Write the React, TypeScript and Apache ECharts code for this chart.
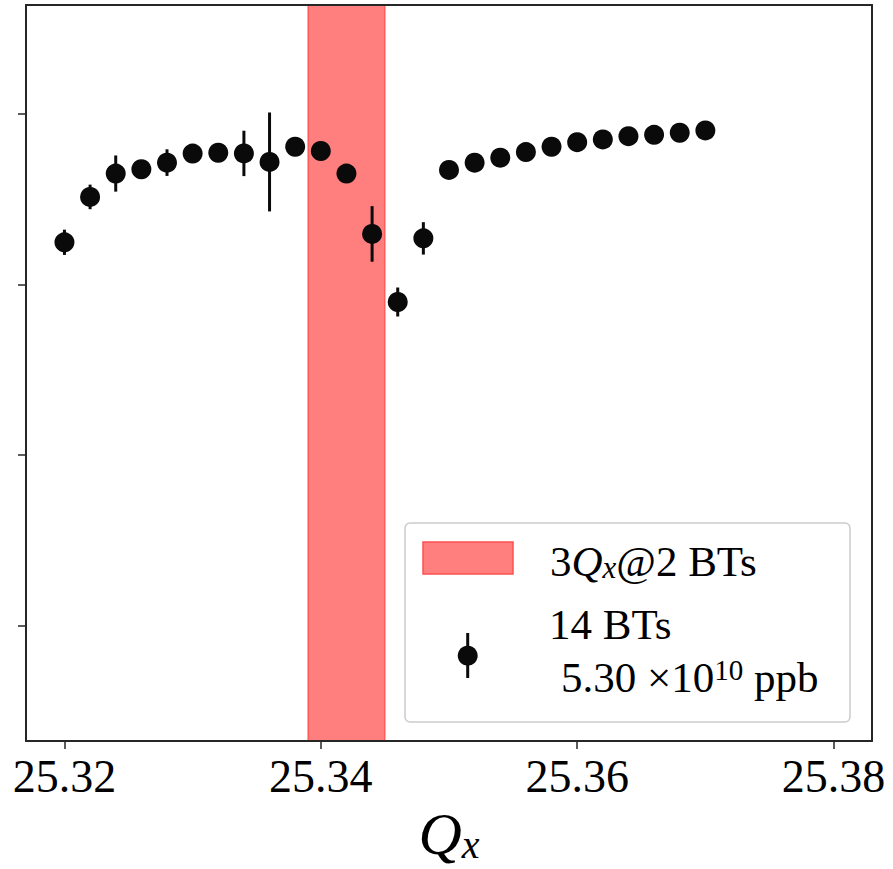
import React, { useEffect, useRef } from "react";
import * as echarts from "echarts";

// Tune Q_x values of the scan
const qx = [
  25.32, 25.322, 25.324, 25.326, 25.328, 25.33, 25.332, 25.334, 25.336, 25.338,
  25.34, 25.342, 25.344, 25.346, 25.348, 25.35, 25.352, 25.354, 25.356, 25.358,
  25.36, 25.362, 25.364, 25.366, 25.368, 25.37,
];
// Measured quantity (y tick labels not visible in the reference; arbitrary units)
const amp = [
  3.247, 3.513, 3.65, 3.675, 3.714, 3.767, 3.772, 3.768, 3.718, 3.807,
  3.782, 3.65, 3.296, 2.897, 3.27, 3.671, 3.714, 3.743, 3.776, 3.807,
  3.834, 3.85, 3.869, 3.877, 3.889, 3.903,
];
// Error bar half-heights
const err = [
  0.074, 0.072, 0.106, 0.03, 0.078, 0.02, 0.02, 0.133, 0.29, 0.02,
  0.02, 0.03, 0.163, 0.085, 0.095, 0.02, 0.02, 0.02, 0.02, 0.02,
  0.02, 0.02, 0.02, 0.02, 0.02, 0.02,
];
// 3Qx resonance band @ 2 BTs
const resonanceBand = [25.339, 25.345];
const xTicks = [25.32, 25.34, 25.36, 25.38];
const yTicks = [1, 2, 3, 4];
const xRange = [25.317, 25.383];
const yRange = [0.323, 4.638];

const FONT = "Liberation Serif";

export default function App() {
  const ref = useRef<HTMLDivElement>(null);
  useEffect(() => {
    document.body.style.margin = "0";
    const chart = echarts.init(ref.current as HTMLDivElement, null, { renderer: "svg" });
    const pts = qx.map((x, i) => [x, amp[i], err[i]]);
    const frameColor = "#262626";

    chart.setOption({
      animation: false,
      backgroundColor: "#ffffff",
      textStyle: { fontFamily: FONT },
      grid: { left: 26, right: 21, top: 5, bottom: 125, show: false },
      xAxis: [
        {
          type: "value",
          min: xRange[0],
          max: xRange[1],
          position: "bottom",
          z: 5,
          axisLine: { show: true, lineStyle: { color: frameColor, width: 2 } },
          axisTick: {
            show: true,
            length: 8,
            customValues: xTicks,
            lineStyle: { color: frameColor, width: 1.5 },
          },
          axisLabel: {
            show: true,
            customValues: xTicks,
            formatter: (v: number) => v.toFixed(2),
            fontSize: 46,
            fontFamily: FONT,
            color: "#000",
            margin: 12,
          },
          splitLine: { show: false },
          name: "{q|Q}{s|x}",
          nameLocation: "middle",
          nameGap: 62,
          nameTextStyle: {
            fontFamily: FONT,
            rich: {
              q: { fontFamily: FONT, fontStyle: "italic", fontSize: 60, lineHeight: 60, color: "#000" },
              s: {
                fontFamily: FONT,
                fontStyle: "italic",
                fontSize: 40,
                lineHeight: 36,
                verticalAlign: "bottom",
                color: "#000",
              },
            },
          },
        },
        {
          type: "value",
          min: xRange[0],
          max: xRange[1],
          position: "top",
          z: 5,
          axisLine: { show: true, lineStyle: { color: frameColor, width: 2 } },
          axisTick: { show: false },
          axisLabel: { show: false },
          splitLine: { show: false },
        },
      ],
      yAxis: [
        {
          type: "value",
          min: yRange[0],
          max: yRange[1],
          position: "left",
          z: 5,
          axisLine: { show: true, lineStyle: { color: frameColor, width: 2 } },
          axisTick: {
            show: true,
            length: 8,
            customValues: yTicks,
            lineStyle: { color: frameColor, width: 1.5 },
          },
          axisLabel: { show: false },
          splitLine: { show: false },
        },
        {
          type: "value",
          min: yRange[0],
          max: yRange[1],
          position: "right",
          z: 5,
          axisLine: { show: true, lineStyle: { color: frameColor, width: 2 } },
          axisTick: { show: false },
          axisLabel: { show: false },
          splitLine: { show: false },
        },
      ],
      series: [
        {
          type: "custom",
          name: "band",
          z: 1,
          silent: true,
          data: [[resonanceBand[0], resonanceBand[1]]],
          renderItem: (_params: any, api: any) => {
            const p1 = api.coord([api.value(0), yRange[1]]);
            const p2 = api.coord([api.value(1), yRange[0]]);
            return {
              type: "rect",
              shape: { x: p1[0], y: p1[1], width: p2[0] - p1[0], height: p2[1] - p1[1] },
              style: { fill: "rgba(255,0,0,0.5)", stroke: "rgba(255,40,40,0.55)", lineWidth: 1.5 },
            };
          },
        },
        {
          type: "custom",
          name: "errors",
          z: 3,
          silent: true,
          data: pts,
          renderItem: (_params: any, api: any) => {
            const x = api.value(0);
            const y = api.value(1);
            const e = api.value(2);
            const a = api.coord([x, y - e]);
            const b = api.coord([x, y + e]);
            return {
              type: "line",
              shape: { x1: a[0], y1: a[1], x2: b[0], y2: b[1] },
              style: { stroke: "#0a0a0a", lineWidth: 3 },
            };
          },
        },
        {
          type: "scatter",
          name: "14 BTs",
          z: 4,
          symbol: "circle",
          symbolSize: 20,
          itemStyle: { color: "#0a0a0a", opacity: 1 },
          data: pts.map((p) => [p[0], p[1]]),
        },
      ],
      graphic: [
        {
          type: "group",
          z: 100,
          children: [
            {
              type: "rect",
              shape: { x: 405, y: 523, width: 445, height: 199, r: 5 },
              style: { fill: "rgba(255,255,255,0.85)", stroke: "#cccccc", lineWidth: 1.5 },
            },
            {
              type: "rect",
              shape: { x: 423, y: 542, width: 90, height: 32 },
              style: { fill: "#ff7f7f", stroke: "#ff5050", lineWidth: 1.5 },
            },
            {
              type: "line",
              shape: { x1: 467.7, y1: 633, x2: 467.7, y2: 678 },
              style: { stroke: "#0a0a0a", lineWidth: 3 },
            },
            {
              type: "circle",
              shape: { cx: 467.7, cy: 655.7, r: 10 },
              style: { fill: "#0a0a0a" },
            },
            {
              type: "text",
              x: 550,
              y: 561,
              style: {
                text: "{n|3}{i|Q}{s|x}{n|@2 BTs}",
                align: "left",
                verticalAlign: "middle",
                fontFamily: FONT,
                rich: {
                  n: { fontFamily: FONT, fontSize: 43, lineHeight: 43, fill: "#000" },
                  i: { fontFamily: FONT, fontStyle: "italic", fontSize: 43, lineHeight: 43, fill: "#000" },
                  s: {
                    fontFamily: FONT,
                    fontStyle: "italic",
                    fontSize: 31,
                    lineHeight: 25,
                    verticalAlign: "bottom",
                    fill: "#000",
                  },
                },
              },
            },
            {
              type: "text",
              x: 549,
              y: 624.5,
              style: {
                text: "14 BTs",
                align: "left",
                verticalAlign: "middle",
                fontFamily: FONT,
                fontSize: 43,
                fill: "#000",
              },
            },
            {
              type: "text",
              x: 561,
              y: 677,
              style: {
                text: "{n|5.30 ×10}{p|10}{n| ppb}",
                align: "left",
                verticalAlign: "middle",
                fontFamily: FONT,
                rich: {
                  n: { fontFamily: FONT, fontSize: 43, lineHeight: 43, fill: "#000" },
                  p: {
                    fontFamily: FONT,
                    fontSize: 29,
                    lineHeight: 18,
                    verticalAlign: "top",
                    fill: "#000",
                  },
                },
              },
            },
          ],
        },
      ],
    });
    return () => chart.dispose();
  }, []);
  return <div ref={ref} style={{ width: 893, height: 869 }} />;
}
